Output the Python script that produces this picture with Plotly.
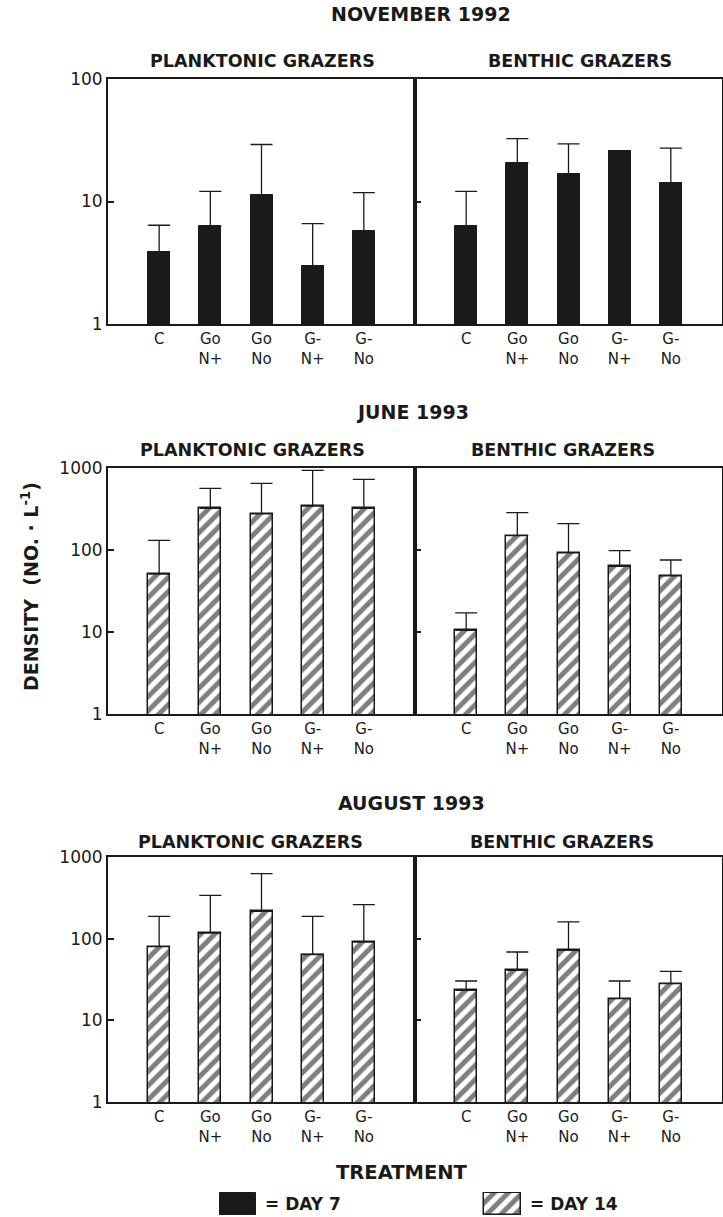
import plotly.graph_objects as go

W, H = 723, 1217

categories = ["C", "Go<br>N+", "Go<br>No", "G-<br>N+", "G-<br>No"]

nov_plank = [3.9, 6.3, 11.2, 3.0, 5.7]
nov_plank_hi = [6.4, 12.1, 29.2, 6.6, 11.8]
nov_benth = [6.3, 20.8, 16.9, 26.0, 14.1]
nov_benth_hi = [12.1, 32.6, 29.5, None, 27.3]

jun_plank = [51, 321, 276, 343, 321]
jun_plank_hi = [131, 564, 649, 936, 727]
jun_benth = [10.5, 150, 92, 63, 48.5]
jun_benth_hi = [17.1, 286, 210, 98, 75.5]

aug_plank = [80, 117, 216, 64, 91]
aug_plank_hi = [188, 339, 625, 188, 261]
aug_benth = [23.3, 41, 72, 18.4, 28.1]
aug_benth_hi = [30.3, 68.7, 161, 30.3, 39.8]

month_titles = ["NOVEMBER 1992", "JUNE 1993", "AUGUST 1993"]
panel_titles = ["PLANKTONIC GRAZERS", "BENTHIC GRAZERS"]
ytick_vals = [1, 10, 100, 1000]
legend_labels = ["= DAY 7", "= DAY 14"]

FONT = "DejaVu Sans, Verdana, sans-serif"
BLACK = "#1a1a1a"

def px_x(p):
    return p / W

def px_y(p):
    return 1 - p / H

x_left = [px_x(108), px_x(415)]
x_right = [px_x(415), px_x(722)]
rows = [(79, 324, 2), (468, 714, 3), (857, 1102, 3)]

series = [
    (nov_plank, nov_plank_hi, nov_benth, nov_benth_hi, "solid"),
    (jun_plank, jun_plank_hi, jun_benth, jun_benth_hi, "hatch"),
    (aug_plank, aug_plank_hi, aug_benth, aug_benth_hi, "hatch"),
]

fig = go.Figure()

def err(vals, hi):
    return [None if h is None else h - v for v, h in zip(vals, hi)]

def marker_for(style):
    if style == "solid":
        return dict(color=BLACK, line=dict(color=BLACK, width=1))
    return dict(color="white", line=dict(color=BLACK, width=1.5),
                pattern=dict(shape="/", fgcolor="black", bgcolor="white",
                             size=10, solidity=0.5))

layout = dict()
ax = 1
for r, ((top, bot, dec), (pv, ph, bv, bh, style)) in enumerate(zip(rows, series)):
    for c, (vals, hi) in enumerate([(pv, ph), (bv, bh)]):
        xa = "x" if ax == 1 else f"x{ax}"
        ya = "y" if ax == 1 else f"y{ax}"
        fig.add_trace(go.Bar(
            x=categories, y=vals, xaxis=xa, yaxis=ya, width=0.43,
            marker=marker_for(style), showlegend=False,
            error_y=dict(type="data", symmetric=False, array=err(vals, hi),
                         arrayminus=[0] * len(vals), color=BLACK,
                         thickness=1.3, width=11),
        ))
        xk = "xaxis" if ax == 1 else f"xaxis{ax}"
        yk = "yaxis" if ax == 1 else f"yaxis{ax}"
        layout[xk] = dict(
            domain=x_left if c == 0 else x_right, anchor=ya,
            type="category", range=[-1, 5], showline=True, mirror=True,
            linecolor=BLACK, linewidth=2, ticks="", showgrid=False,
            automargin=False,
            tickfont=dict(family=FONT, size=15, color=BLACK),
        )
        tv = ytick_vals[: dec + 1]
        layout[yk] = dict(
            domain=[px_y(bot), px_y(top)], anchor=xa, type="log",
            range=[0, dec], showline=True, mirror=True, linecolor=BLACK,
            linewidth=2, ticks="inside", ticklen=6, tickwidth=1.5,
            tickcolor=BLACK, tickvals=tv, ticktext=[str(v) for v in tv],
            showticklabels=(c == 0), showgrid=False, zeroline=False,
            automargin=False,
            tickfont=dict(family=FONT, size=17, color=BLACK),
        )
        ax += 1

# Legend swatches on their own pixel-scaled axes
fig.add_trace(go.Bar(x=[238], y=[22], base=[2], width=[36], xaxis="x7", yaxis="y7",
                     marker=marker_for("solid"), showlegend=False))
fig.add_trace(go.Bar(x=[502.5], y=[22], base=[2], width=[37], xaxis="x7", yaxis="y7",
                     marker=marker_for("hatch"), showlegend=False))
layout["xaxis7"] = dict(domain=[0, 1], range=[0, W], visible=False, anchor="y7")
layout["yaxis7"] = dict(domain=[0, 25 / H], range=[0, 25], visible=False, anchor="x7")

annotations = []

def add_text(text, x, y, size, bold=True, xanchor="center", angle=0):
    annotations.append(dict(
        text=text, x=x / W, y=1 - y / H, xref="paper", yref="paper",
        showarrow=False, xanchor=xanchor, yanchor="middle", textangle=angle,
        font=dict(family=FONT, size=size, color=BLACK,
                  weight="bold" if bold else "normal"),
    ))

month_pos = [(421, 14), (412, 412), (411, 803)]
panel_pos = [
    [(262, 61), (580, 61)],
    [(252, 450), (563, 450)],
    [(250, 842), (562, 842)],
]
for t, (mx, my), pp in zip(month_titles, month_pos, panel_pos):
    add_text(t, mx, my, 19)
    for pt, (qx, qy) in zip(panel_titles, pp):
        add_text(pt, qx, qy, 17.5)

add_text("DENSITY  (NO. · L<sup>-1</sup>)", 30, 587, 19, angle=-90)
add_text("TREATMENT", 402, 1172, 19.5)
add_text(legend_labels[0], 263, 1204, 17, xanchor="left")
add_text(legend_labels[1], 528, 1204, 17, xanchor="left")

fig.update_layout(
    **layout,
    annotations=annotations,
    width=W, height=H, autosize=False,
    margin=dict(l=0, r=0, t=0, b=0),
    paper_bgcolor="white", plot_bgcolor="white",
    bargap=0, showlegend=False,
)

fig.write_html(
    "out.html",
    config={"displayModeBar": False},
    post_script="document.body.style.margin='0px';document.body.style.overflow='hidden';",
)
